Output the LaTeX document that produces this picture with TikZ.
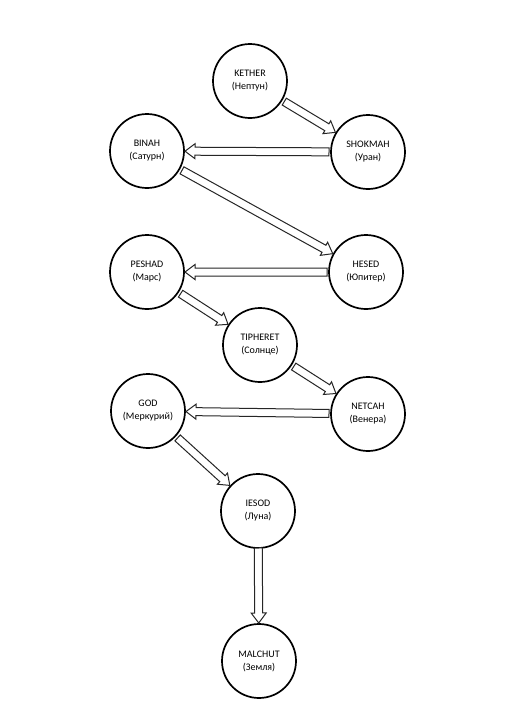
\documentclass[tikz,border=0pt]{standalone}
\usepackage{fontspec}
\setmainfont{Carlito}
\usetikzlibrary{calc}
\tikzset{
  planet/.style={circle, draw=black, line width=1.7pt, minimum size=74pt, inner sep=0pt,
    align=center, text=black, font=\fontsize{10}{13}\selectfont},
  blockarrow/.style={draw=black!85, line width=1pt, fill=white, line join=miter},
}
\newcommand{\blockarr}[3][40]{%
  \draw[blockarrow] let \p1=($(#2)!#1pt!(#3)$), \p2=($(#3)!38pt!(#2)$),
    \n1={atan2(\y2-\y1,\x2-\x1)}, \n2={veclen(\x2-\x1,\y2-\y1)} in
    [shift={(\p1)}, rotate=\n1]
    (0pt,-4pt) -- ({\n2-10pt},-4pt) -- ({\n2-10pt},-7.5pt) -- ({\n2},0pt)
    -- ({\n2-10pt},7.5pt) -- ({\n2-10pt},4pt) -- (0pt,4pt) -- cycle;
}
\begin{document}
\begin{tikzpicture}[x=1pt,y=-1pt]
\fill[white] (0,0) rectangle (506,724);
\useasboundingbox (0,0) rectangle (506,724);
\node[planet] (kether)   at (250,81)  {KETHER\\(Нептун)};
\node[planet] (shokmah)  at (368,152) {SHOKMAH\\(Уран)};
\node[planet] (binah)    at (147,151) {BINAH\\(Сатурн)};
\node[planet] (hesed)    at (366,272) {HESED\\(Юпитер)};
\node[planet] (peshad)   at (147,272) {PESHAD\\(Марс)};
\node[planet] (tiphe)    at (260,345) {TIPHERET\\(Солнце)};
\node[planet] (netcah)   at (368,414) {NETCAH\\(Венера)};
\node[planet] (god)      at (148,411) {GOD\\(Меркурий)};
\node[planet] (iesod)    at (258,511) {IESOD\\(Луна)};
\node[planet] (malchut)  at (259,661) {MALCHUT\\(Земля)};
\blockarr{kether}{shokmah}
\blockarr[39]{shokmah}{binah}
\blockarr{binah}{hesed}
\blockarr[39]{hesed}{peshad}
\blockarr{peshad}{tiphe}
\blockarr{tiphe}{netcah}
\blockarr[39]{netcah}{god}
\blockarr{god}{iesod}
\blockarr[37]{iesod}{malchut}
\end{tikzpicture}
\end{document}
